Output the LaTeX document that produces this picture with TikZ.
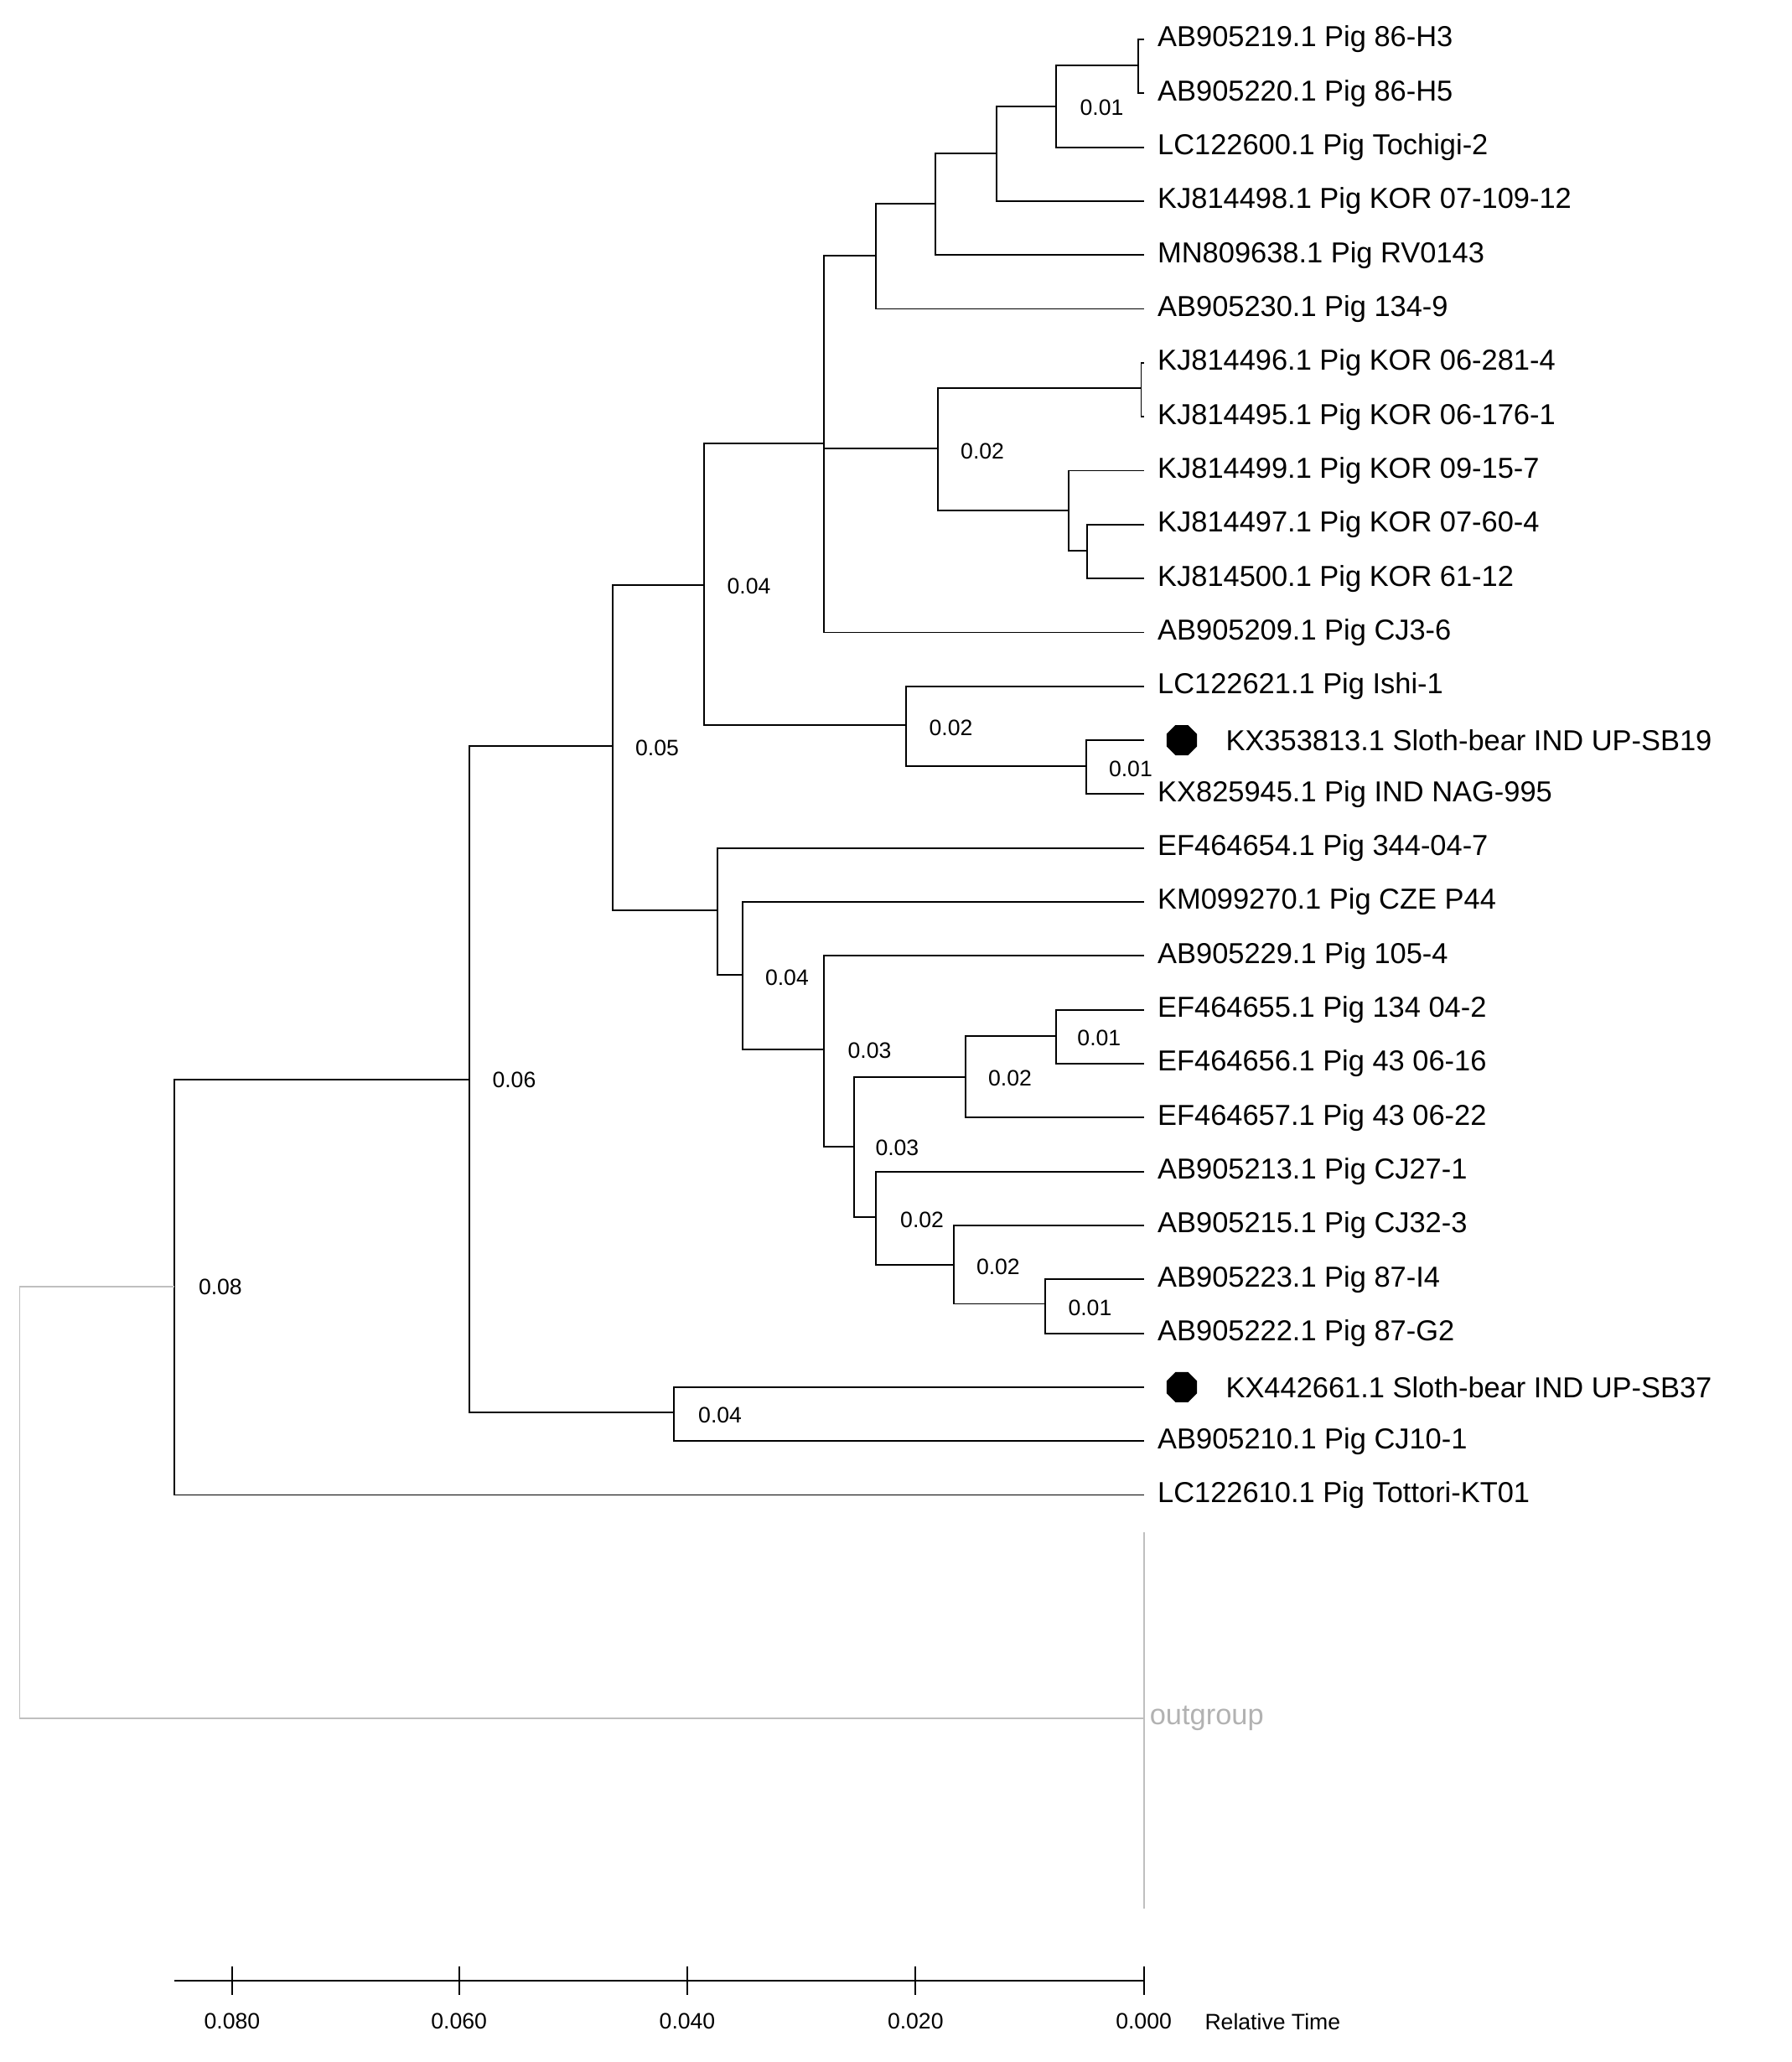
\documentclass[tikz,border=0pt]{standalone}
\usepackage{fontspec}
\setmainfont{Liberation Sans}
\usetikzlibrary{shapes.geometric}
\begin{document}
\begin{tikzpicture}[x=1pt,y=-1pt,line width=1.2pt,
  leaf/.style={anchor=west,inner sep=0pt,font=\fontsize{22}{26}\selectfont},
  blab/.style={inner sep=0pt,font=\fontsize{17}{20}\selectfont},
  br/.style={draw=black},
  gr/.style={draw=black!25}]
\useasboundingbox (0,0) rectangle (1366,1572);
% leaves
\foreach \i/\t in {1/AB905219.1 Pig 86-H3,2/AB905220.1 Pig 86-H5,3/LC122600.1 Pig Tochigi-2,4/KJ814498.1 Pig KOR 07-109-12,5/MN809638.1 Pig RV0143,6/AB905230.1 Pig 134-9,7/KJ814496.1 Pig KOR 06-281-4,8/KJ814495.1 Pig KOR 06-176-1,9/KJ814499.1 Pig KOR 09-15-7,10/KJ814497.1 Pig KOR 07-60-4,11/KJ814500.1 Pig KOR 61-12,12/AB905209.1 Pig CJ3-6,13/LC122621.1 Pig Ishi-1,15/KX825945.1 Pig IND NAG-995,16/EF464654.1 Pig 344-04-7,17/KM099270.1 Pig CZE P44,18/AB905229.1 Pig 105-4,19/EF464655.1 Pig 134 04-2,20/EF464656.1 Pig 43 06-16,21/EF464657.1 Pig 43 06-22,22/AB905213.1 Pig CJ27-1,23/AB905215.1 Pig CJ32-3,24/AB905223.1 Pig 87-I4,25/AB905222.1 Pig 87-G2,27/AB905210.1 Pig CJ10-1,28/LC122610.1 Pig Tottori-KT01}{
  \coordinate (L\i) at (872,{30+(\i-1)*41.1});
  \node[leaf] (T\i) at (882,{30+(\i-1)*41.1}) {\t};
}
\foreach \i/\t in {14/KX353813.1 Sloth-bear IND UP-SB19,26/KX442661.1 Sloth-bear IND UP-SB37}{
  \coordinate (L\i) at (872,{30+(\i-1)*41.1});
  \node[regular polygon,regular polygon sides=8,fill=black,minimum size=25pt,inner sep=0pt] (D\i) at (901,{30+(\i-1)*41.1}) {};
  \node[leaf] (T\i) at (934,{30+(\i-1)*41.1}) {\t};
}
% internal nodes
\foreach \n/\x/\y in {n1/868/50,n2/805/81,n3/760/117,n4/713/155,n5/668/195,n6/870/296,n7/829/420,n8/815/389,n9/715/342,n10/628/338,n13/537/446,n12/691/553,n11/828/584,n23/467/569,n22/547/694,n21/566/743,n20/628/800,n15/736/821,n14/805/790,n19/651/874,n18/668/928,n17/727/964,n16/797/994,n24/514/1077,n25/358/823,n26/133/981,root/15/1145}
  \coordinate (\n) at (\x,\y);
\coordinate (OG) at (872,1310);
\coordinate (ga) at (872,1168);
\coordinate (gb) at (872,1455);
\foreach \p/\c in {n1/L1,n1/L2,n2/n1,n2/L3,n3/n2,n3/L4,n4/n3,n4/L5,n5/n4,n5/L6,n6/L7,n6/L8,n7/L10,n7/L11,n8/L9,n8/n7,n9/n6,n9/n8,n10/n5,n10/n9,n10/L12,n13/n10,n13/n12,n12/L13,n12/n11,n11/L14,n11/L15,n23/n13,n23/n22,n22/L16,n22/n21,n21/L17,n21/n20,n20/L18,n20/n19,n19/n15,n19/n18,n15/n14,n15/L21,n14/L19,n14/L20,n18/L22,n18/n17,n17/L23,n17/n16,n16/L24,n16/L25,n25/n23,n25/n24,n24/L26,n24/L27,n26/n25,n26/L28}
  \draw[br] (\p) |- (\c);
\draw[gr] (root) |- (n26);
\draw[gr] (root) |- (OG);
\draw[gr] (ga) -- (gb);
\node[leaf,text=black!30] (TOG) at (876,1310) {outgroup};
% branch labels
\foreach \x/\y/\t in {840/82/0.01,749/344/0.02,571/447/0.04,725/555/0.02,862/586/0.01,501/570/0.05,600/745/0.04,838/791/0.01,663/801/0.03,770/822/0.02,684/875/0.03,703/930/0.02,761/966/0.02,831/997/0.01,549/1079/0.04,392/823/0.06,168/981/0.08}
  \node[blab] at (\x,\y) {\t};
% axis
\coordinate (A0) at (133,1510);
\coordinate (A1) at (872,1510);
\draw[br] (A0) -- (A1);
\foreach \x/\t in {177/0.080,350/0.060,524/0.040,698/0.020,872/0.000}{
  \coordinate (tk\x) at (\x,1499);
  \draw[br] (tk\x) -- ++(0,22);
  \node[blab] at (\x,1541) {\t};
}
\node[blab,anchor=west] (RT) at (918,1541) {Relative Time};
\end{tikzpicture}
\end{document}
